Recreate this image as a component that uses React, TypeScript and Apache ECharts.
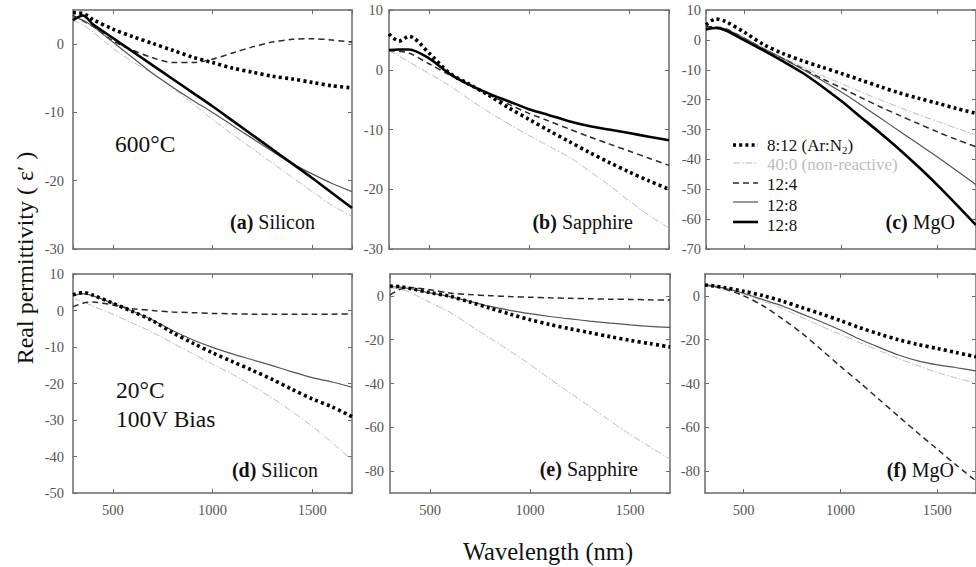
import React, { useEffect, useRef } from 'react';
import * as echarts from 'echarts';

// Wavelength samples (nm)
const wavelengths = [300, 350, 400, 500, 600, 700, 800, 900, 1000, 1100, 1200, 1300, 1400, 1500, 1600, 1700];

// (a) Silicon, 600°C
const aDotted = [4.6, 4.5, 3.6, 2.2, 1.1, 0.1, -0.9, -1.9, -2.7, -3.5, -4.1, -4.7, -5.1, -5.6, -6.1, -6.4];
const aGray = [3.5, 2.8, 1.8, -0.6, -2.6, -4.3, -6.4, -8.7, -11.0, -13.2, -15.3, -17.4, -19.5, -21.6, -23.6, -25.2];
const aDashed = [4.2, 3.4, 2.6, 0.5, -0.9, -2.0, -2.7, -2.7, -2.2, -1.3, -0.4, 0.3, 0.7, 0.8, 0.6, 0.3];
const aThin = [4.0, 3.5, 2.6, 0.3, -2.0, -4.3, -6.3, -8.2, -10.0, -11.9, -13.8, -15.7, -17.5, -19.0, -20.4, -21.6];
const aThick = [3.5, 4.2, 2.9, 0.9, -1.1, -3.1, -5.1, -7.1, -9.1, -11.2, -13.3, -15.4, -17.5, -19.6, -21.8, -24.0];

// (b) Sapphire, 600°C
const bDotted = [6.0, 4.8, 5.6, 2.8, -0.5, -2.4, -4.3, -6.4, -8.3, -10.2, -12.0, -13.8, -15.5, -17.1, -18.6, -20.0];
const bGray = [3.2, 2.3, 1.3, -0.6, -2.6, -4.9, -7.1, -9.1, -11.0, -12.8, -14.6, -16.9, -19.3, -21.9, -24.4, -26.5];
const bDashed = [3.2, 3.1, 2.8, 1.0, -0.8, -2.5, -4.2, -5.8, -7.3, -8.6, -9.9, -11.2, -12.4, -13.6, -14.8, -16.0];
const bThick = [3.3, 3.4, 3.4, 1.9, -0.6, -2.5, -4.0, -5.3, -6.6, -7.6, -8.6, -9.4, -10.0, -10.6, -11.2, -11.8];

// (c) MgO, 600°C
const cDotted = [5.0, 7.0, 6.2, 2.5, -1.6, -4.6, -7.0, -9.1, -11.2, -13.4, -15.6, -17.7, -19.5, -21.2, -23.0, -24.6];
const cGray = [4.5, 4.3, 3.8, 0.5, -2.8, -6.0, -9.0, -11.9, -14.6, -17.3, -20.0, -22.5, -25.0, -27.3, -29.6, -31.8];
const cDashed = [4.5, 4.3, 3.8, 0.5, -3.0, -6.3, -9.6, -12.9, -16.0, -19.2, -22.3, -25.2, -28.0, -30.8, -33.4, -35.8];
const cThin = [4.0, 4.2, 3.6, 0.5, -3.0, -6.3, -9.8, -13.5, -17.4, -21.6, -26.0, -30.4, -34.8, -39.2, -43.8, -48.5];
const cThick = [3.5, 4.0, 3.2, -0.2, -3.6, -7.2, -11.0, -15.5, -20.4, -25.7, -31.0, -36.5, -42.4, -48.6, -55.2, -62.0];

// (d) Silicon, 20°C 100V bias
const dDotted = [4.3, 4.9, 4.2, 2.0, -0.3, -2.8, -6.1, -8.9, -11.6, -14.0, -16.4, -18.9, -21.6, -24.2, -26.4, -29.1];
const dGray = [3.3, 2.5, 1.2, -1.0, -3.5, -6.0, -8.9, -11.8, -14.7, -17.5, -20.6, -24.0, -27.7, -31.7, -36.2, -41.0];
const dDashed = [1.0, 2.0, 2.3, 1.5, 0.5, 0.0, -0.4, -0.6, -0.8, -0.9, -1.0, -1.0, -1.0, -1.0, -1.0, -0.9];
const dThin = [4.0, 4.6, 4.0, 2.0, -0.2, -2.6, -5.5, -8.0, -10.1, -11.9, -13.5, -15.1, -16.8, -18.4, -19.6, -21.0];

// (e) Sapphire, 20°C 100V bias
const eDotted = [4.5, 4.2, 3.4, 1.5, -0.2, -2.8, -5.6, -8.3, -10.9, -13.1, -15.0, -16.8, -18.6, -20.3, -21.8, -23.3];
const eGray = [3.5, 3.2, 1.6, -3.0, -7.5, -13.4, -19.3, -25.2, -31.3, -37.9, -44.3, -50.6, -57.0, -63.2, -68.9, -74.5];
const eDashed = [0.4, 3.0, 3.8, 2.8, 1.3, 0.6, 0.1, -0.3, -0.6, -0.9, -1.1, -1.3, -1.5, -1.6, -1.8, -1.9];
const eThin = [4.3, 4.0, 3.3, 1.4, -0.3, -2.5, -4.8, -6.6, -8.1, -9.4, -10.5, -11.5, -12.4, -13.2, -13.9, -14.4];

// (f) MgO, 20°C 100V bias
const fDotted = [5.0, 4.5, 3.8, 2.1, 0.1, -2.4, -5.3, -8.2, -11.3, -14.5, -17.4, -20.0, -22.2, -24.0, -25.9, -27.8];
const fGray = [5.0, 4.3, 3.4, 0.8, -2.4, -5.8, -9.8, -13.8, -17.6, -21.4, -25.0, -28.6, -31.9, -35.0, -37.5, -39.8];
const fDashed = [5.0, 4.3, 3.2, 0.0, -4.5, -10.5, -17.0, -24.5, -32.2, -39.6, -47.3, -55.0, -62.6, -70.0, -77.4, -84.5];
const fThin = [5.0, 4.4, 3.6, 1.2, -1.7, -4.6, -8.2, -11.8, -15.6, -19.8, -23.5, -27.0, -29.7, -31.5, -32.8, -34.2];

const legendLabels = ['8:12 (Ar:N{s|2})', '40:0 (non-reactive)', '12:4', '12:8', '12:8'];
const panelTitles = ['(a)', '(b)', '(c)', '(d)', '(e)', '(f)'];
const panelSubstrates = ['Silicon', 'Sapphire', 'MgO', 'Silicon', 'Sapphire', 'MgO'];

const SERIF = 'Liberation Serif';

const STY: Record<string, any> = {
  dotted: { color: '#000', width: 3.6, type: [3, 3.2], cap: 'butt' },
  gray: { color: '#bcbcbc', width: 1, type: [7, 2, 1.5, 2] },
  dashed: { color: '#2a2a2a', width: 1.5, type: [6, 4] },
  thin: { color: '#555', width: 1.2, type: 'solid' },
  thick: { color: '#000', width: 2.6, type: 'solid' },
};

const panels = [
  { grid: { left: 73, top: 10, width: 279, height: 239 }, yMin: -30, yMax: 5, yInterval: 10, bottomRow: false, yMargin: 9, hideMinY: false, hideMaxY: true,
    lines: [['dotted', aDotted], ['gray', aGray], ['dashed', aDashed], ['thin', aThin], ['thick', aThick]] },
  { grid: { left: 389, top: 10, width: 280, height: 239 }, yMin: -30, yMax: 10, yInterval: 10, bottomRow: false, yMargin: 6, hideMinY: false, hideMaxY: false,
    lines: [['gray', bGray], ['dashed', bDashed], ['dotted', bDotted], ['thick', bThick]] },
  { grid: { left: 706, top: 10, width: 280, height: 239 }, yMin: -70, yMax: 10, yInterval: 10, bottomRow: false, yMargin: 5, hideMinY: false, hideMaxY: false,
    lines: [['gray', cGray], ['dashed', cDashed], ['thin', cThin], ['thick', cThick], ['dotted', cDotted]] },
  { grid: { left: 73, top: 274, width: 279, height: 219 }, yMin: -50, yMax: 10, yInterval: 10, bottomRow: true, yMargin: 9, hideMinY: false, hideMaxY: false,
    lines: [['gray', dGray], ['dashed', dDashed], ['thin', dThin], ['dotted', dDotted]] },
  { grid: { left: 390, top: 274, width: 280, height: 219 }, yMin: -90, yMax: 10, yInterval: null, bottomRow: true, yMargin: 6, hideMinY: true, hideMaxY: true,
    lines: [['gray', eGray], ['dashed', eDashed], ['thin', eThin], ['dotted', eDotted]] },
  { grid: { left: 705, top: 274, width: 280, height: 219 }, yMin: -90, yMax: 10, yInterval: null, bottomRow: true, yMargin: 5, hideMinY: true, hideMaxY: true,
    lines: [['gray', fGray], ['dashed', fDashed], ['thin', fThin], ['dotted', fDotted]] },
];

const titlePos = [
  [315, 222], [633, 222], [955, 222],
  [318, 470], [638, 469], [954, 470],
];

const legendKeys = ['dotted', 'gray', 'dashed', 'thin', 'thick'];
const legendLineY = [145, 163, 183, 202, 222];
const legendTextY = [145, 164, 184, 205, 225];

const plain = (v: number) => String(v);

function buildOption() {
  const AX = '#6a6a6a';
  const grids: any[] = [];
  const xAxes: any[] = [];
  const yAxes: any[] = [];
  const series: any[] = [];
  panels.forEach((p, i) => {
    grids.push({ ...p.grid, containLabel: false });
    const baseX = {
      type: 'value', gridIndex: i, min: 300, max: 1700, splitNumber: 3,
      axisLine: { show: true, onZero: false, lineStyle: { color: AX, width: 1.5 } },
      axisTick: { show: true, inside: true, length: 4, lineStyle: { color: AX, width: 1 } },
      splitLine: { show: false },
    };
    xAxes.push({ ...baseX, position: 'bottom',
      axisLabel: { show: p.bottomRow, showMinLabel: false, showMaxLabel: false, margin: 9, color: '#555', fontSize: 14.5, fontFamily: SERIF, formatter: plain } });
    xAxes.push({ ...baseX, position: 'top', axisLabel: { show: false } });
    const baseY: any = {
      type: 'value', gridIndex: i, min: p.yMin, max: p.yMax,
      axisLine: { show: true, onZero: false, lineStyle: { color: AX, width: 1.5 } },
      axisTick: { show: true, inside: true, length: 4, lineStyle: { color: AX, width: 1 } },
      splitLine: { show: false },
    };
    if (p.yInterval) baseY.interval = p.yInterval; else baseY.splitNumber = 5;
    yAxes.push({ ...baseY, position: 'left',
      axisLabel: { show: true, showMinLabel: !p.hideMinY, showMaxLabel: !p.hideMaxY, margin: p.yMargin, color: '#555', fontSize: 14.5, fontFamily: SERIF, formatter: plain } });
    yAxes.push({ ...baseY, position: 'right', axisLabel: { show: false } });
    p.lines.forEach(([key, vals]: any) => {
      series.push({
        type: 'line', xAxisIndex: 2 * i, yAxisIndex: 2 * i,
        data: wavelengths.map((w, k) => [w, vals[k]]),
        showSymbol: false, symbol: 'none', smooth: 0.3, clip: true,
        lineStyle: { ...STY[key] }, silent: true,
      });
    });
  });

  const graphics: any[] = [];
  panelTitles.forEach((t, i) => {
    graphics.push({
      type: 'text', x: titlePos[i][0], y: titlePos[i][1], silent: true,
      style: {
        text: `{b|${t}} ${panelSubstrates[i]}`, align: 'right', verticalAlign: 'middle',
        fill: '#111', fontSize: 20, fontFamily: SERIF,
        rich: { b: { fontWeight: 'bold', fontSize: 20, fontFamily: SERIF, fill: '#111' } },
      },
    });
  });
  graphics.push({ type: 'text', x: 115, y: 144, silent: true,
    style: { text: '600°C', fill: '#111', fontSize: 23.5, fontFamily: SERIF, align: 'left', verticalAlign: 'middle' } });
  graphics.push({ type: 'text', x: 116, y: 390, silent: true,
    style: { text: '20°C', fill: '#111', fontSize: 23.5, fontFamily: SERIF, align: 'left', verticalAlign: 'middle' } });
  graphics.push({ type: 'text', x: 116, y: 419, silent: true,
    style: { text: '100V Bias', fill: '#111', fontSize: 23.5, fontFamily: SERIF, align: 'left', verticalAlign: 'middle' } });

  legendKeys.forEach((k, i) => {
    const s = STY[k];
    graphics.push({ type: 'line', silent: true,
      shape: { x1: 733, y1: legendLineY[i], x2: 758, y2: legendLineY[i] },
      style: { stroke: s.color, lineWidth: s.width, lineDash: Array.isArray(s.type) ? s.type : null } });
    graphics.push({ type: 'text', x: 767, y: legendTextY[i], silent: true,
      style: {
        text: legendLabels[i], fill: k === 'gray' ? '#bcbcbc' : '#111', fontSize: 17, fontFamily: SERIF,
        align: 'left', verticalAlign: 'middle',
        rich: { s: { fontSize: 11, fontFamily: SERIF, fill: '#111', padding: [9, 0, 0, 0] } },
      } });
  });

  graphics.push({ type: 'text', x: 25, y: 258, rotation: Math.PI / 2, silent: true,
    style: { text: 'Real permittivity ( ε′ )', fill: '#111', fontSize: 24, fontFamily: SERIF, align: 'center', verticalAlign: 'middle' } });
  graphics.push({ type: 'text', x: 548, y: 551, silent: true,
    style: { text: 'Wavelength (nm)', fill: '#111', fontSize: 24.5, fontFamily: SERIF, align: 'center', verticalAlign: 'middle' } });

  return {
    animation: false,
    backgroundColor: '#fff',
    textStyle: { fontFamily: SERIF },
    grid: grids,
    xAxis: xAxes,
    yAxis: yAxes,
    series,
    graphic: graphics,
  };
}

export default function App() {
  const ref = useRef<HTMLDivElement>(null);
  useEffect(() => {
    if (!ref.current) return;
    const chart = echarts.init(ref.current, null, { renderer: 'svg' });
    chart.setOption(buildOption() as any);
    return () => chart.dispose();
  }, []);
  return <div ref={ref} style={{ position: 'absolute', left: 0, top: 0, width: 976, height: 567 }} />;
}
